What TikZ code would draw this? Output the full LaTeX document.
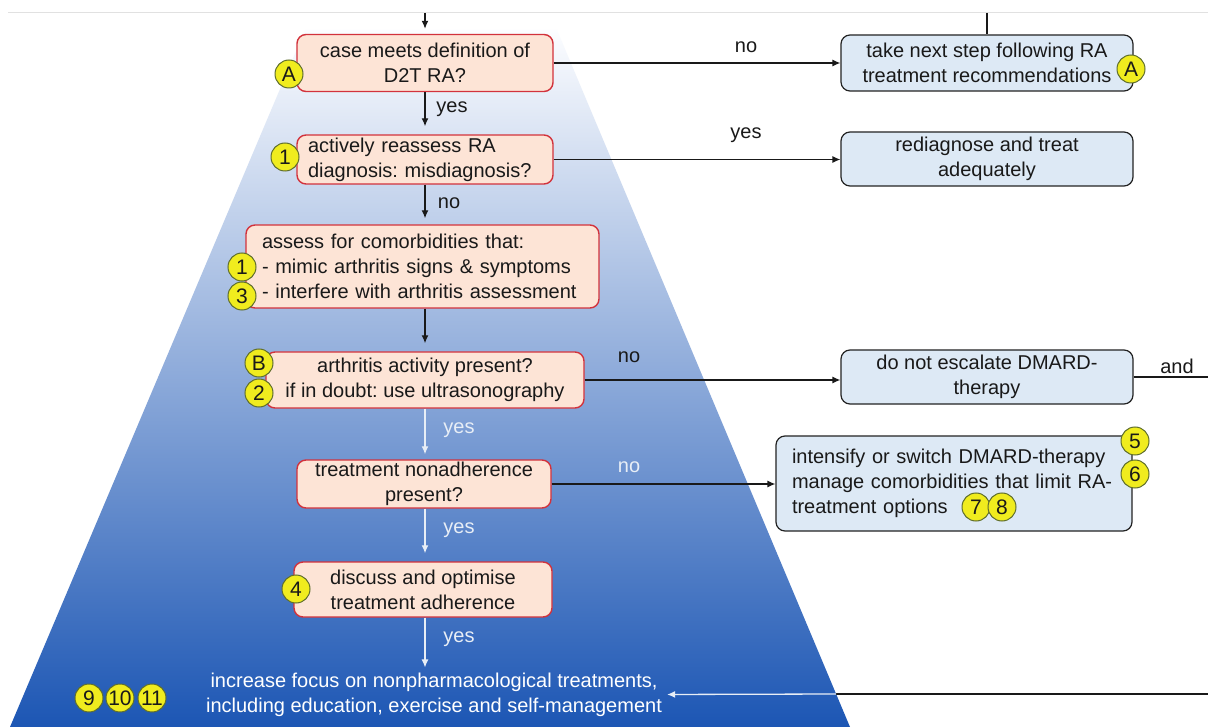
\documentclass[tikz,border=0pt]{standalone}
\usepackage{fontspec}
\setmainfont{Liberation Sans}
\usetikzlibrary{arrows.meta}
\definecolor{peach}{RGB}{253,228,214}
\definecolor{redb}{RGB}{210,50,60}
\definecolor{lblue}{RGB}{221,233,245}
\definecolor{boxb}{RGB}{35,35,35}
\definecolor{badgey}{RGB}{240,236,30}
\definecolor{badgeb}{RGB}{95,110,45}
\definecolor{wline}{RGB}{232,238,246}
\definecolor{gtop}{RGB}{252,253,255}
\definecolor{gmid}{RGB}{162,196,232}
\definecolor{gbot}{RGB}{28,86,180}
\definecolor{topline}{RGB}{225,225,225}
\definecolor{ink}{RGB}{25,25,25}
\begin{document}
\begin{tikzpicture}[x=1pt,y=-1pt,
 every node/.style={font=\fontsize{20}{25}\selectfont\frenchspacing, text=ink},
 qbox/.style={draw=redb, fill=peach, line width=1.4pt, rounded corners=9pt, inner sep=0pt, align=center},
 abox/.style={draw=boxb, fill=lblue, line width=1.2pt, rounded corners=9pt, inner sep=0pt, align=center},
 badge/.style={circle, draw=badgeb, fill=badgey, line width=1pt, inner sep=0pt, minimum size=28pt, font=\fontsize{21}{21}\selectfont},
 conn/.style={draw=ink, line width=1.3pt, -{Latex[length=8pt,width=7pt]}},
 wconn/.style={conn, draw=wline},
 plain/.style={draw=ink, line width=1.3pt},
 lab/.style={font=\fontsize{20}{22}\selectfont},
 wlab/.style={lab, text=wline},
]
\useasboundingbox (0,0) rectangle (1208,727);
\fill[white] (0,0) rectangle (1208,727);
\draw[topline, line width=0.8pt] (8,12) -- (1208,12);
\shade[top color=gtop, middle color=gmid, bottom color=gbot] (305,30) -- (557,30) -- (850,727) -- (10,727) -- cycle;

% decision boxes
\node[qbox, minimum width=256pt, minimum height=57pt] (qA) at (425,63) {case meets definition of\\D2T RA?};
\node[qbox, text width=234pt, inner xsep=11pt, minimum height=49pt, align=left] (q1) at (425,159.5) {actively reassess RA\\diagnosis: misdiagnosis?};
\node[qbox, text width=321pt, inner xsep=16pt, minimum height=83pt, align=left] (q2) at (422.5,266.5) {assess for comorbidities that:\\- mimic arthritis signs \& symptoms\\- interfere with arthritis assessment};
\node[qbox, minimum width=318pt, minimum height=56pt] (qB) at (425,380) {arthritis activity present?\\if in doubt: use ultrasonography};
\node[qbox, minimum width=254pt, minimum height=48pt] (q3) at (424,484) {treatment nonadherence\\present?};
\node[qbox, minimum width=258pt, minimum height=55pt] (q4) at (423,589.5) {discuss and optimise\\treatment adherence};
\node[align=center, inner sep=0pt, text=white] (focus) at (434,694.5) {increase focus on nonpharmacological treatments,\\including education, exercise and self-management};

% action boxes
\node[abox, minimum width=292pt, minimum height=56pt] (a1) at (987,63) {take next step following RA\\treatment recommendations};
\node[abox, minimum width=292pt, minimum height=54pt] (a2) at (987,159) {rediagnose and treat\\adequately};
\node[abox, minimum width=292pt, minimum height=54pt] (a3) at (987,377) {do not escalate DMARD-\\therapy};
\node[abox, text width=324pt, inner xsep=16pt, minimum height=95pt, align=left] (a4) at (954,483.5) {intensify or switch DMARD-therapy\\manage comorbidities that limit RA-\\treatment options};

% badges
\node[badge] (bA1) at (289,74) {A};
\node[badge] (b1a) at (285,157) {1};
\node[badge] (b1b) at (242,267) {1};
\node[badge] (b3) at (242,296) {3};
\node[badge] (bB) at (259,363) {B};
\node[badge] (b2) at (259,393) {2};
\node[badge] (b4) at (296,589) {4};
\node[badge] (b9) at (89,698) {9};
\node[badge] (b10) at (120,698) {10};
\node[badge] (b11) at (152,698) {11};
\node[badge] (bA2) at (1131,69) {A};
\node[badge] (b5) at (1135,441) {5};
\node[badge] (b6) at (1135,474) {6};
\node[badge] (b7) at (976,507) {7};
\node[badge] (b8) at (1002,507) {8};

% coordinates for free ends
\coordinate (top1) at (425,13);
\coordinate (topR) at (987,13);
\coordinate (Rand) at (1208,377);
\coordinate (Rbot) at (1208,694);
\coordinate (edge) at (836,694);

% vertical connectors
\draw[conn, shorten >=5pt] (top1) -- (qA.north);
\draw[conn, shorten >=8pt] (qA.south) -- (qA.south |- q1.north);
\draw[conn, shorten >=6pt] (q1.south) -- (q1.south |- q2.north);
\draw[conn, shorten >=8pt] (q1.south |- q2.south) -- (q1.south |- qB.north);
\draw[wconn, shorten >=5pt] (qB.south) -- (qB.south |- q3.north);
\draw[wconn, shorten >=8pt] (qB.south |- q3.south) -- (qB.south |- q4.north);
\draw[wconn, shorten >=5pt] (qB.south |- q4.south) -- (qB.south |- focus.north);
\draw[plain] (topR) -- (a1.north);

% horizontal connectors
\draw[conn] (qA.east) -- (a1.west);
\draw[conn] (q1.east) -- (q1.east -| a2.west);
\draw[conn] (qB.east) -- (qB.east -| a3.west);
\draw[conn] (q3.east) -- (q3.east -| a4.west);
\draw[plain] (a3.east) -- (Rand);
\draw[plain] (Rbot) -- (edge);
\draw[wconn, shorten >=5pt] (edge) -- (focus.east);

% labels
\node[lab] (lyes1) at (452,109) {yes};
\node[lab] (lno1) at (449,203) {no};
\node[wlab] (lyes2) at (459,430) {yes};
\node[wlab] (lyes3) at (459,530) {yes};
\node[wlab] (lyes4) at (459,639) {yes};
\node[lab] (lno2) at (746,47) {no};
\node[lab] (lyes5) at (746,135) {yes};
\node[lab] (lno3) at (629,357) {no};
\node[wlab] (lno4) at (629,467) {no};
\node[lab] (land) at (1177,366) {and};
\end{tikzpicture}
\end{document}
